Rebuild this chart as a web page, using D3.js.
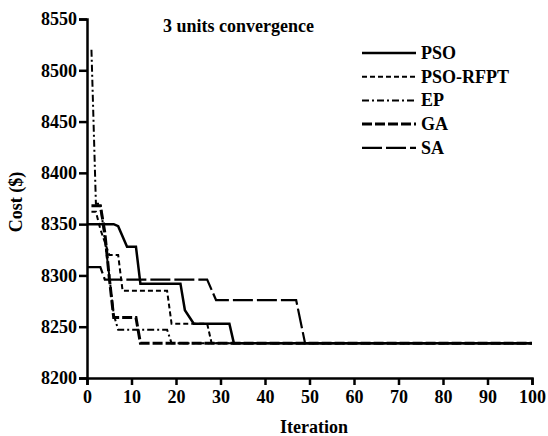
<!DOCTYPE html>
<html>
<head>
<meta charset="utf-8">
<script src="https://cdn.jsdelivr.net/npm/d3@7"></script>
<style>
  body { margin: 0; background: #fff; }
  svg { display: block; }
  text { font-family: "Liberation Serif", "Times New Roman", serif; font-weight: bold; fill: #000; }
</style>
</head>
<body>
<svg width="548" height="436"></svg>
<script>
// convergence data (iteration breakpoints, cost in $)
var psoIter  = [0, 6, 7, 9, 11, 12, 21, 22, 24, 32, 33, 100];
var psoCost  = [8350, 8350, 8348, 8328, 8328, 8292, 8292, 8266, 8253, 8253, 8234, 8234];

var rfptIter = [1, 2, 3, 5, 7, 8, 18, 19, 27, 28, 100];
var rfptCost = [8362, 8362, 8345, 8320, 8320, 8285, 8285, 8253, 8253, 8234, 8234];

var epIter   = [1, 2, 3, 5, 6, 7, 18, 19, 100];
var epCost   = [8520, 8370, 8370, 8300, 8262, 8247, 8247, 8234, 8234];

var gaIter   = [1, 3, 4, 5, 6, 11, 12, 100];
var gaCost   = [8368, 8368, 8342, 8298, 8259, 8259, 8234, 8234];

var saIter   = [0, 3, 4, 27, 29, 47, 49, 100];
var saCost   = [8308, 8308, 8296, 8296, 8276, 8276, 8234, 8234];

var seriesNames = ['PSO', 'PSO-RFPT', 'EP', 'GA', 'SA'];
var xTicks = [0, 10, 20, 30, 40, 50, 60, 70, 80, 90, 100];
var yTicks = [8200, 8250, 8300, 8350, 8400, 8450, 8500, 8550];

var svg = d3.select('svg');

var x = d3.scaleLinear().domain([0, 100]).range([87, 532]);
var y = d3.scaleLinear().domain([8200, 8550]).range([378, 19]);

// line styles per series
var styles = {
  'PSO':      { dash: null,      width: 2.5 },
  'PSO-RFPT': { dash: '5,3',     width: 2 },
  'EP':       { dash: '7,3,2,3', width: 2 },
  'GA':       { dash: '10,3',    width: 3 },
  'SA':       { dash: '20,4',    width: 2.2 }
};

var zip = function(xs, ys){
  return xs.map(function(v, i){ return [v, ys[i]]; });
};

var series = [
  { name: 'PSO',      pts: zip(psoIter, psoCost) },
  { name: 'PSO-RFPT', pts: zip(rfptIter, rfptCost) },
  { name: 'EP',       pts: zip(epIter, epCost) },
  { name: 'GA',       pts: zip(gaIter, gaCost) },
  { name: 'SA',       pts: zip(saIter, saCost) }
];

var line = d3.line()
  .x(function(d){ return x(d[0]); })
  .y(function(d){ return y(d[1]); });

svg.selectAll('path.series')
  .data(series)
  .enter()
  .append('path')
    .attr('class', 'series')
    .attr('d', function(s){ return line(s.pts); })
    .attr('fill', 'none')
    .attr('stroke', '#000')
    .attr('stroke-width', function(s){ return styles[s.name].width; })
    .attr('stroke-dasharray', function(s){ return styles[s.name].dash; });

// axes
var xAxis = svg.append('g')
  .attr('transform', 'translate(0,378)')
  .call(d3.axisBottom(x).tickValues(xTicks).tickSize(7).tickPadding(5).tickFormat(d3.format('d')));

var yAxis = svg.append('g')
  .attr('transform', 'translate(87,0)')
  .call(d3.axisLeft(y).tickValues(yTicks).tickSize(8).tickPadding(2).tickFormat(d3.format('d')));

[xAxis, yAxis].forEach(function(g){
  g.select('.domain').attr('stroke-width', 2.5).attr('stroke', '#000');
  g.selectAll('.tick line').attr('stroke-width', 2.5).attr('stroke', '#000');
  g.selectAll('.tick text')
    .attr('font-family', '"Liberation Serif", serif')
    .attr('font-weight', 'bold')
    .attr('font-size', 18)
    .attr('fill', '#000');
});

// labels
svg.append('text')
  .attr('x', 314).attr('y', 433)
  .attr('text-anchor', 'middle')
  .attr('font-size', 18)
  .text('Iteration');

svg.append('text')
  .attr('transform', 'translate(22,202) rotate(-90)')
  .attr('text-anchor', 'middle')
  .attr('font-size', 18)
  .text('Cost ($)');

svg.append('text')
  .attr('x', 163).attr('y', 32)
  .attr('font-size', 18)
  .text('3 units convergence');

// legend
var legend = svg.selectAll('g.legend')
  .data(seriesNames)
  .enter()
  .append('g')
    .attr('class', 'legend')
    .attr('transform', function(d, i){ return 'translate(0,' + (53 + i * 23.7) + ')'; });

legend.append('line')
  .attr('x1', 362).attr('x2', 416)
  .attr('y1', 0).attr('y2', 0)
  .attr('stroke', '#000')
  .attr('stroke-width', function(d){ return styles[d].width; })
  .attr('stroke-dasharray', function(d){ return styles[d].dash; });

legend.append('text')
  .attr('x', 421).attr('y', 6)
  .attr('font-size', 18)
  .text(function(d){ return d; });
</script>
</body>
</html>
